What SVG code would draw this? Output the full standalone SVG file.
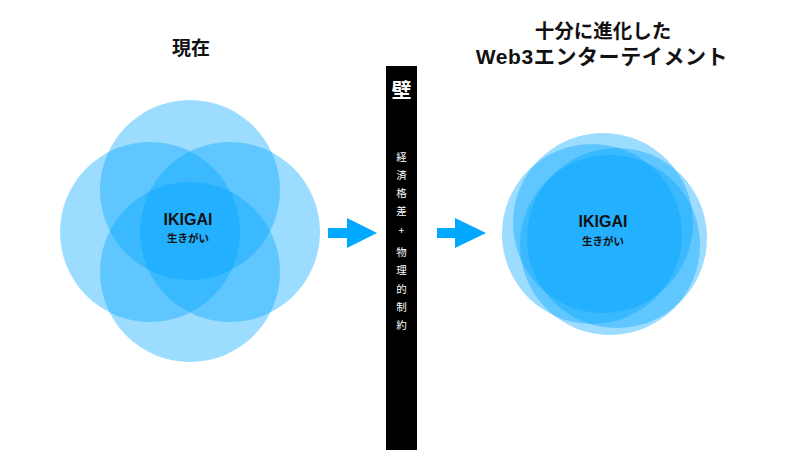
<svg xmlns="http://www.w3.org/2000/svg" width="800" height="450" viewBox="0 0 800 450">
  <style>
    .c { fill: #00a6ff; fill-opacity: 0.39; }
    .t { font-family: "Liberation Sans", "Noto Sans CJK JP", sans-serif; font-weight: bold; fill: #111; text-anchor: middle; }
    .j { font-family: "Noto Sans CJK JP", sans-serif; font-weight: bold; fill: #111; text-anchor: middle; }
    .w { font-family: "Noto Sans CJK JP", sans-serif; fill: #fff; text-anchor: middle; font-size: 10.5px; }
    .arrow { fill: #00a8ff; }
  </style>
  <rect width="800" height="450" fill="#fff"/>

  <g id="title-left">
    <text class="j" x="191" y="55" font-size="19">現在</text>
  </g>
  <g id="title-right">
    <text class="j" x="603" y="38" font-size="19.5">十分に進化した</text>
    <text class="t" x="602" y="64" font-size="21" letter-spacing="0.6">Web3エンターテイメント</text>
  </g>

  <g id="ikigai-now">
    <circle class="c" cx="190" cy="190" r="90"/>
    <circle class="c" cx="150" cy="232" r="90"/>
    <circle class="c" cx="230" cy="232" r="90"/>
    <circle class="c" cx="190" cy="272" r="90"/>
    <text class="t" x="188" y="225" font-size="16">IKIGAI</text>
    <text class="j" x="188" y="242" font-size="10.5">生きがい</text>
  </g>

  <g id="wall">
    <rect x="386" y="66" width="31" height="384" fill="#000"/>
    <text class="w" x="401.5" y="98" font-weight="bold" style="font-size:20px">壁</text>
    <text class="w" x="401.5" y="161">経</text>
    <text class="w" x="401.5" y="179">済</text>
    <text class="w" x="401.5" y="197">格</text>
    <text class="w" x="401.5" y="215">差</text>
    <text class="w" x="401.5" y="234">+</text>
    <text class="w" x="401.5" y="256">物</text>
    <text class="w" x="401.5" y="274">理</text>
    <text class="w" x="401.5" y="293">的</text>
    <text class="w" x="401.5" y="311">制</text>
    <text class="w" x="401.5" y="329">約</text>
  </g>

  <g id="ikigai-web3">
    <circle class="c" cx="592" cy="234" r="90"/>
    <circle class="c" cx="617" cy="238" r="90"/>
    <circle class="c" cx="603" cy="223" r="90"/>
    <circle class="c" cx="610" cy="245" r="90"/>
    <text class="t" x="603" y="227" font-size="16">IKIGAI</text>
    <text class="j" x="603" y="245" font-size="10.5">生きがい</text>
  </g>

  <g id="connectors">
    <polygon class="arrow" points="328,228 347,228 347,218 377,233 347,248 347,238 328,238"/>
    <polygon class="arrow" points="437,228 455,228 455,218 486,233 455,248 455,238 437,238"/>
  </g>
</svg>
